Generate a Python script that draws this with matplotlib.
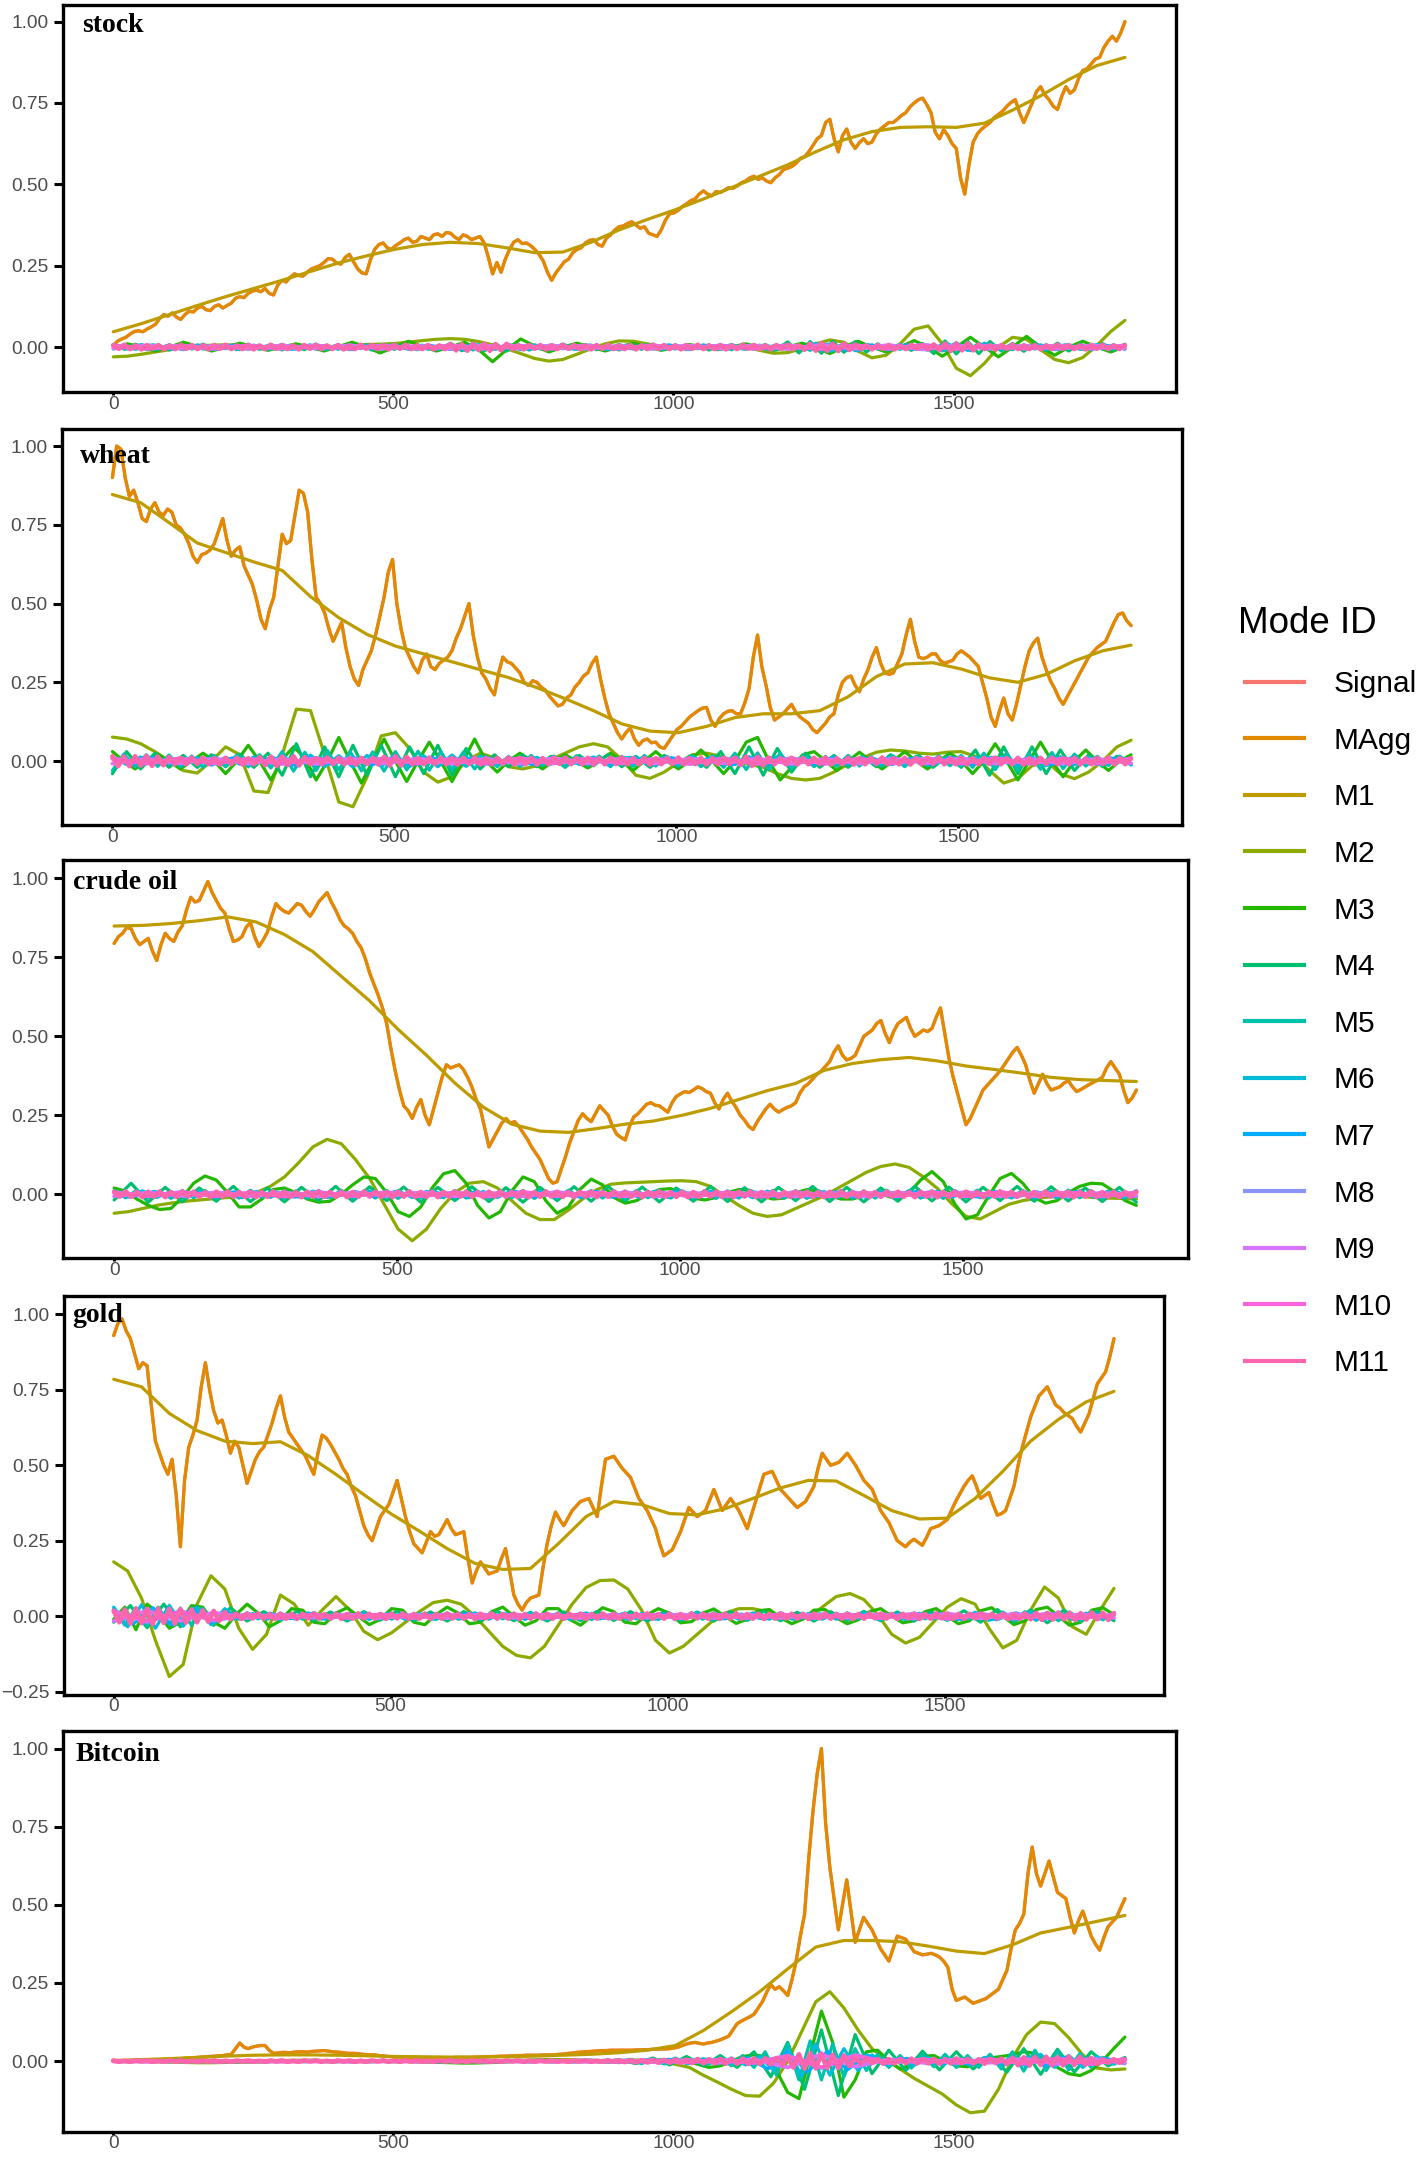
import numpy as np
import matplotlib
matplotlib.use("Agg")
import matplotlib.pyplot as plt
from matplotlib.lines import Line2D

plt.rcParams["font.family"] = ["Liberation Sans", "DejaVu Sans"]

# ---------------------------------------------------------------- data
# all series values are given in thousandths of the normalised scale;
# each series is sampled evenly over the day index 0 .. X_LAST
SCALE = 1000.0
X_LAST = 1806

MODE_IDS = ["Signal", "MAgg", "M1", "M2", "M3", "M4", "M5", "M6", "M7",
            "M8", "M9", "M10", "M11"]
MODE_COLORS = ["#F8766D", "#E18A00", "#BE9C00", "#8CAB00", "#24B700", "#00BE70",
               "#00C1AB", "#00BBDA", "#00ACFC", "#8B93FF", "#D575FE", "#F962DD",
               "#FF65AC"]

X_TICKS = [0, 500, 1000, 1500]
X_TICK_LABELS = ["0", "500", "1000", "1500"]
Y_TICKS = [0.0, 0.25, 0.5, 0.75, 1.0]
Y_TICK_LABELS = ["0.00", "0.25", "0.50", "0.75", "1.00"]
Y_TICKS_GOLD = [-0.25, 0.0, 0.25, 0.5, 0.75, 1.0]
Y_TICK_LABELS_GOLD = ["\u22120.25", "0.00", "0.25", "0.50", "0.75", "1.00"]

PANEL_NAMES = ["stock", "wheat", "crude oil", "gold", "Bitcoin"]

# ---- stock
stock_signal = [5,18,25,30,40,48,50,47,55,62,70,88,100,95,105,92,85,100,110,108,120,125,115,112,125,130,120,128,135,150,155,152,165,172,175,170,180,165,160,190,
    205,200,215,225,220,218,230,240,245,250,260,272,270,258,255,275,285,262,240,228,225,268,300,315,320,305,300,312,320,330,335,322,325,340,335,330,345,348,340,352,
    350,338,330,345,340,330,335,340,320,275,225,260,230,270,300,322,330,318,320,312,300,285,265,230,205,228,245,262,270,290,300,305,320,328,330,315,310,335,345,360,
    370,372,380,385,375,365,370,350,345,340,360,390,410,412,420,432,440,450,455,470,480,470,465,478,475,482,490,488,495,505,510,520,525,515,520,510,505,520,530,545,
    550,555,565,580,585,600,620,640,650,690,700,640,600,650,670,630,610,628,640,625,630,655,670,680,690,690,700,712,720,738,750,760,765,745,720,660,640,668,650,625,
    610,520,470,560,630,655,670,680,690,705,715,725,740,752,760,720,690,720,750,785,800,775,760,740,730,770,800,780,790,825,850,855,870,885,890,920,940,955,940,965,1000]
stock_magg = list(stock_signal)
stock_m1 = [47,72,100,128,155,180,205,232,258,280,300,315,322,318,305,290,292,322,360,392,
    422,455,490,525,560,600,637,662,675,677,675,688,728,772,822,865,890]
stock_m2 = [-30,-28,-22,-15,-8,-2,3,6,7,6,3,0,-3,-4,-3,0,3,6,8,9,
    11,15,20,24,26,24,17,7,-5,-20,-35,-43,-38,-22,-5,10,19,18,10,2,
    -3,-5,-4,0,2,0,-10,-19,-17,-5,10,22,15,-12,-33,-25,10,55,65,10,
    -65,-88,-50,0,30,24,-8,-38,-48,-32,5,48,82]
stock_m3 = [-3,10,1,-12,0,15,2,-12,0,12,1,-10,0,10,0,-12,1,15,0,-18,
    0,18,2,-12,0,15,-8,-45,-8,25,3,-15,0,12,0,-12,0,12,1,-10,
    0,8,0,-8,0,10,0,-10,0,12,0,-20,0,18,0,-15,0,20,0,-28,
    0,30,0,-30,0,33,0,-25,0,18,0,-15,2]
stock_m4 = [8,-7,9,-8,7,-9,8,-6,9,-8,7,-8,9,-7,8,-9,6,-8,9,-7,8,-8,7,-9,8,-7,9,-8,7,-8,
    12,-11,13,-12,11,-12,8,-9,7,-8,9,-7,8,-8,6,-9,8,-7,9,-8,7,-8,8,-9,7,-8,9,-6,8,-8,
    16,-18,17,-19,18,-16,17,-15,10,-11,9,-10,11,-20,19,-21,18,-20,17,
    -12,11,-13,12,-11,12,-12,10,-9,11,-10,9]
stock_m5 = [-6,5,-7,6,-5,7,-6,5,-6,7,-5,6,-7,5,-6,6,-5,7,-6,5,
    -7,6,-5,6,-6,7,-5,6,-7,5,-6,8,-9,8,-7,6,-5,6,-6,7,
    -5,6,-7,5,-6,6,-5,7,-6,5,-6,7,-5,6,-7,5,-6,6,-5,7,-6,5,
    -10,11,-12,10,-11,7,-6,5,-7,6,-5,7,-11,12,-10,11,
    -7,6,-8,7,-6,7,-8,6,-7,8,-6,7,-6]
stock_m6 = [7,-6,8,-7,6,-8,7,-6,7,-8,6,-7,8,-6,7,-7,6,-8,7,-6,8,-7,6,-7,9,-10,8,-7,6,-8,
    7,-6,8,-7,6,-7,8,-6,7,-7,6,-8,7,-6,8,-7,6,-7,8,-6,
    12,-13,11,-12,7,-6,8,-7,6,-12,13,-11,12,-7,8,-6,7,-8,6,-7,8,-6,7]
stock_m7 = [6,-5,7,-6,5,-7,6,-5,6,-7,5,-6,7,-5,6,-6,5,-7,6,-5,7,-6,5,-6,6,-7,5,-6,7,-5,
    6,-6,5,-7,6,-5,9,-10,8,-6,7,-9,10,-8,6,-7,5,-6,7,-5,6,-6]
stock_m8 = [5,-4,5,-5,4,-5,5,-4,5,-5,4,-5,5,-4,5,-5,4,-5,5,-4,6,-7,5,-6,7,-5,5,-4,5,-5,4]
stock_m9 = [-4,5,-5,4,-5,5,-4,5,-5,4,-5,5,-4,5,-5,4,-5,5,-4,5,-6,7,-5,6,-7,5,-5,4,-5,5,-4]
stock_m10 = [4,-5,4,-4,5,-4,4,-5,4,-4,5,-4,4,-5,4,-4,5,-4,4,-5,5,-6,5,-5,6,-5,4,-5,4,-4,5]
stock_m11 = [6,-5,7,-6,5,-7,6,-5,6,-7,5,-6,7,-5,6,-6,5,-7,6,-5,
    7,-6,5,-6,6,-7,5,-6,7,-5,6,-6,5,-7,6,-5,7,-6,5,-6,
    6,-7,5,-6,7,-5,6,-6,5,-7,6,-5,7,-6,5,-6,6,-7,5,-6,
    9,-10,9,-11,10,-9,10,-11,9,-10,10,-6,5,-7,6,-5,6,-7,5,-6,
    7,-5,6,-6,5,-7,6,-5,7,-6,5,-6,6,-7,5,-6,7,-5,6,-6,
    5,-7,6,-5,7,-6,5,-6,6,-7,5,-6,7,-5,6,-6,5,-7,6,-5,
    7,-6,5,-8,10,-11,12,-11,10,-12,11,-9,8,-6,5,-7,6,-5,6,-7,
    5,-6,7,-5,6,-7,8,-9,11,-12,11,-10,12,-10,8,-6,5,-7,6,-5,
    7,-6,5,-6,6,-7,5,-6,7,-5,6,-6,5,-7,6,-5,7,-6,5,-6,6]

# ---- wheat
wheat_signal = [900,1000,990,900,840,860,820,770,760,800,820,790,780,800,790,750,740,720,690,650,630,655,660,670,690,730,770,700,650,670,680,620,590,560,510,450,420,480,520,620,
    720,690,700,780,860,850,790,640,520,500,470,420,380,410,440,360,300,260,240,290,320,350,400,460,520,600,640,500,420,360,330,300,280,320,340,300,290,310,320,330,
    350,390,420,460,500,400,330,280,260,230,210,280,330,315,310,295,280,250,240,255,250,235,225,205,190,175,180,200,210,235,250,270,280,310,330,260,200,150,120,90,
    70,90,105,70,50,65,70,58,60,45,40,60,80,100,110,125,140,150,160,168,170,130,110,135,150,158,160,150,150,185,230,330,400,300,240,170,130,140,150,165,
    180,155,140,130,120,100,90,105,120,140,150,210,250,265,270,240,220,260,290,330,360,310,280,275,280,310,340,400,450,380,330,325,330,340,340,320,310,315,320,340,
    350,340,330,315,300,250,200,140,110,160,200,150,130,180,240,300,350,375,390,330,290,255,230,200,180,205,230,255,280,305,330,345,360,370,380,410,440,465,470,445,430]
wheat_magg = list(wheat_signal)
wheat_m1 = [846,820,757,692,662,632,605,522,455,402,365,340,315,290,265,233,198,160,118,95,
    90,110,138,150,150,160,204,268,308,312,292,264,250,275,318,350,368]
wheat_m2 = [76,70,55,30,0,-30,-38,0,45,20,-95,-100,20,165,160,20,-130,-145,-50,80,
    90,40,-35,-67,-50,0,25,10,-18,-25,-15,5,25,45,55,45,5,-45,-55,-35,
    -5,20,25,15,0,-10,-20,-40,-55,-60,-55,-35,-10,10,28,35,32,25,22,28,
    30,15,-30,-70,-55,-15,0,-40,-56,-35,0,45,66]
wheat_m3 = [30,0,-25,0,22,0,-25,0,25,0,-40,0,50,0,-60,5,45,10,-60,0,
    75,0,-70,0,70,0,-65,0,60,0,-65,0,70,0,-35,0,25,0,-25,0,
    20,0,-22,0,25,0,-30,0,30,0,-25,0,35,0,-40,0,60,75,0,-60,
    -20,20,30,0,-30,0,28,0,-25,0,30,0,-25,0,25,0,-40,0,55,0,
    -60,0,60,0,-50,0,35,0,-30,0,20]
wheat_m4 = [-40,30,-25,25,-20,18,-20,20,-18,22,-20,25,-45,55,-50,45,-50,50,-45,50,
    -50,45,-40,50,-45,40,-25,20,-18,20,-18,15,-20,18,-15,20,-18,15,-20,18,
    -15,18,-20,30,-40,45,-45,40,-35,25,-20,18,-20,15,-18,20,-15,18,-20,15,
    -20,35,-45,45,-40,45,-40,35,-30,20,-18,15,-12]
wheat_m5 = [-30,22,-18,20,-17,19,-18,16,-20,18,-17,19,-18,20,-22,
    30,-32,28,-30,33,-28,30,-31,29,-32,30,-28,31,-29,30,-27,28,-25,
    16,-18,15,-17,18,-15,16,-18,17,-15,16,-18,15,-17,18,-16,15,-17,16,-18,17,-20,
    25,-27,26,-28,25,-22,16,-18,15,-17,18,-16,15,-17,16,-18,15,-16,17,-15,18,-20,
    25,-27,26,-28,25,-26,27,-24,22,-16,15,-14,16,-12]
wheat_m6 = [12,-11,13,-10,12,-12,11,-13,12,-10,13,-12,
    18,-17,19,-18,17,-19,18,-17,19,-18,17,-18,19,-17,16,
    -12,11,-13,12,-10,12,-11,13,-12,10,12,-13,11,-12,13,-10,12,-11,14,-15,
    14,-12,11,-12,13,-10,12,-11,13,-12,11,-12,10,-13,12,-11,15,-14,13,-15,
    14,-12,11,-12,10,-11]
wheat_m7 = [10,-9,11,-10,9,-11,10,-9,12,-13,12,-11,13,-12,11,-12,10,-9,11,-10,
    9,-11,10,-9,10,-11,9,-10,11,-9,12,-13,11,-10,9,-11,10,-9,10,-11,
    9,-12,13,-11,12,-10,9,-11,10,-9,10,-9]
wheat_m8 = [8,-7,9,-8,7,-8,9,-7,8,-8,7,-9,8,-7,8,-8,7,-9,8,-7,9,-8,7,-8,9,-7,8,-8,7,-9,8]
wheat_m9 = [-8,7,-7,8,-8,7,-9,8,-7,8,-8,7,-8,9,-7,8,-8,7,-7,8,-9,7,-8,8,-7,9,-8,7,-8,7,-7]
wheat_m10 = [7,-8,8,-7,7,-9,8,-7,8,-7,7,-8,9,-7,8,-7,7,-8,8,-9,7,-8,7,-7,8,-8,9,-7,8,-7,7]
wheat_m11 = [15,-16,14,-16,15,-14,16,-15,14,-13,12,-10,9,-10,11,-9,10,-10,9,-11,
    10,-9,10,-11,9,-10,12,-13,14,-15,14,-13,15,-14,12,-10,9,-10,11,-9,
    10,-10,9,-11,10,-9,10,-11,13,-14,15,-14,13,-10,9,-10,11,-9,10,-10,
    9,-11,10,-9,10,-11,9,-10,10,-9,11,-10,9,-10,10,-11,9,-10,10,-9,
    11,-10,9,-10,10,-11,9,-10,10,-9,11,-10,9,-10,10,-11,9,-10,10,-9,
    11,-10,9,-10,10,-11,9,-10,10,-9,11,-13,14,-15,14,-13,11,-10,9,-10,
    10,-11,9,-10,10,-9,11,-10,9,-10,10,-11,9,-10,10,-9,11,-10,9,-10,
    10,-11,9,-10,10,-9,11,-10,9,-10,10,-11,9,-10,10,-9,11,-10,9,-10,
    10,-11,9,-10,10,-9,11,-10,9,-10,10,-11,9,-10,10,-9,11,-10,9,-10,9]

# ---- crude oil
crude_signal = [794,815,826,845,840,810,790,800,810,770,740,790,826,810,800,830,850,900,940,925,930,960,990,955,930,905,890,840,800,805,815,845,860,815,784,805,830,880,920,905,
    895,890,905,920,915,895,880,900,925,940,955,925,900,870,850,840,826,800,780,745,700,665,630,590,540,460,390,330,280,265,240,275,300,250,220,270,320,370,410,400,
    405,410,395,370,340,300,270,210,150,175,200,225,240,225,230,215,195,175,150,130,110,80,50,35,40,80,120,165,200,235,255,240,230,255,280,265,250,215,190,180,
    172,215,245,255,270,285,290,282,280,270,260,290,310,318,325,322,330,340,335,325,320,290,270,300,320,295,275,250,235,215,205,230,250,270,285,270,260,268,275,280,
    290,320,340,350,365,380,390,405,420,450,470,440,425,430,440,470,500,510,520,540,550,510,480,515,540,550,560,525,500,510,520,515,525,560,590,510,430,370,320,270,
    220,240,270,300,330,345,360,375,390,410,430,450,465,440,410,360,320,350,380,350,330,335,340,352,360,340,325,332,340,348,355,362,370,400,420,400,380,330,290,305,330]
crude_magg = list(crude_signal)
crude_m1 = [849,851,857,866,878,862,822,768,690,612,522,440,352,276,222,200,196,208,222,232,
    250,272,300,328,351,392,414,426,433,422,406,395,383,370,363,360,357]
crude_m2 = [-60,-55,-45,-35,-28,-22,-18,-14,-10,-5,5,25,55,100,150,174,160,110,50,-30,
    -110,-147,-110,-45,5,35,40,20,-20,-60,-80,-80,-50,-15,15,32,36,38,40,42,
    43,40,25,-5,-35,-60,-70,-65,-45,-25,-5,20,45,70,88,96,85,55,18,-30,
    -70,-78,-55,-32,-20,-12,-8,-6,-7,-10,-12,-13,-15]
crude_m3 = [20,10,-15,-35,-48,-45,-10,35,58,45,5,-40,-40,-15,15,20,5,-15,-25,-22,
    0,30,55,50,5,-55,-70,-40,20,65,75,35,-35,-75,-55,10,55,40,-20,-60,
    -40,15,48,30,-10,-28,-20,0,15,18,5,-12,-18,-10,5,15,12,-5,-15,-12,
    5,15,10,-5,-15,-15,-5,5,-5,-15,5,45,72,40,-30,-78,-65,-5,50,66,
    35,-10,-28,-20,5,25,35,33,10,-20,-35]
crude_m4 = [-18,35,-25,22,-24,20,-22,25,-23,20,-24,22,-20,25,-22,24,-20,23,-25,22,
    -20,24,-23,21,-25,22,-20,24,-22,25,-21,23,-24,20,-22,25,-23,21,-24,22,
    -20,25,-23,22,-24,20,-22,25,-21,23,-24,22,-20,25,-22,24,-21,20,-23,22,-25]
crude_m5 = [12,-11,13,-12,10,-13,12,-11,12,-13,11,-12,13,-10,12,-12,11,-13,12,-11,
    13,-12,10,-12,12,-13,11,-12,13,-11,12,-12,10,-13,12,-11,12,-13,11,-12,
    13,-10,12,-12,11,-13,12,-11,13,-12,10,-12,12,-13,11,-12,13,-11,12,-12,
    10,-13,12,-11,12,-13,11,-12,13,-10,12,-12,11,-13,12,-11,13,-12,10,-12,
    12,-13,11,-12,13,-11,12,-12,10,-13,12]
crude_m6 = [10,-9,11,-10,9,-11,10,-9,10,-11,9,-10,11,-9,10,-10,9,-11,10,-9,
    11,-10,9,-10,10,-11,9,-10,11,-9,10,-10,9,-11,10,-9,10,-11,9,-10,
    11,-9,10,-10,9,-11,10,-9,11,-10,9,-10,10,-11,9,-10,11,-9,10,-10,
    9,-11,10,-9,10,-11,9,-10,11,-9,10,-10,9]
crude_m7 = [8,-7,9,-8,7,-9,8,-7,8,-9,7,-8,9,-7,8,-8,7,-9,8,-7,9,-8,7,-8,8,-9,7,-8,9,-7,
    8,-8,7,-9,8,-7,8,-9,7,-8,9,-7,8,-8,7,-9,8,-7,9,-8,7,-8]
crude_m8 = [6,-5,7,-6,5,-6,7,-5,6,-6,5,-7,6,-5,6,-6,5,-7,6,-5,7,-6,5,-6,7,-5,6,-6,5,-7,6]
crude_m9 = [-6,5,-5,6,-6,5,-7,6,-5,6,-6,5,-6,7,-5,6,-6,5,-5,6,-7,5,-6,6,-5,7,-6,5,-6,5,-5]
crude_m10 = [5,-6,6,-5,5,-7,6,-5,6,-5,5,-6,7,-5,6,-5,5,-6,6,-7,5,-6,5,-5,6,-6,7,-5,6,-5,5]
crude_m11 = [8,-7,9,-8,7,-9,8,-7,8,-9,7,-8,9,-7,8,-8,7,-9,8,-7,
    9,-8,7,-8,8,-9,7,-8,9,-7,8,-8,7,-9,8,-7,9,-8,7,-8,
    8,-9,7,-8,9,-7,8,-8,7,-9,8,-7,9,-8,7,-8,8,-9,7,-8,
    9,-7,8,-8,7,-9,8,-7,9,-8,7,-8,8,-9,7,-8,9,-7,8,-8,
    7,-9,8,-7,8,-9,7,-8,9,-7,8,-8,7,-9,8,-7,9,-8,7,-8,
    8,-9,7,-8,9,-7,8,-8,7,-9,8,-7,9,-8,7,-8,8,-9,7,-8,
    9,-7,8,-8,7,-9,8,-7,9,-8,7,-8,8,-9,7,-8,9,-7,8,-8,
    7,-9,8,-7,8,-9,7,-8,9,-7,8,-8,7,-9,8,-7,9,-8,7,-8,
    8,-9,7,-8,9,-7,8,-8,7,-9,8,-7,9,-8,7,-8,8,-9,7,-8,8]

# ---- gold
gold_signal = [930,970,985,945,920,870,820,840,830,700,580,540,500,470,520,400,230,450,560,600,650,760,840,750,680,640,650,600,540,580,560,500,440,480,520,545,560,600,640,690,
    730,660,610,590,570,550,530,500,470,540,600,590,570,545,520,490,470,430,400,350,300,270,250,290,330,350,370,410,450,390,330,280,240,225,210,245,280,265,270,295,
    320,290,270,275,280,190,110,150,180,160,140,145,150,190,224,150,70,40,20,45,60,65,70,160,240,300,345,320,300,325,350,365,380,385,390,360,330,430,520,525,
    530,510,490,475,460,425,390,370,350,320,290,240,200,210,220,250,280,320,360,345,330,340,350,385,420,385,350,370,390,370,350,320,290,335,380,425,470,475,480,450,
    420,405,390,375,360,370,380,405,430,490,540,520,500,505,510,525,540,520,500,475,450,435,420,385,350,330,310,280,250,240,230,245,255,245,235,260,290,295,300,310,
    320,350,380,405,430,450,465,430,390,400,410,370,335,340,350,390,430,500,560,610,660,695,730,745,760,730,700,690,675,665,655,630,610,640,670,720,770,790,810,860,920]
gold_magg = list(gold_signal)
gold_m1 = [785,760,672,615,580,572,578,532,470,403,338,282,224,175,155,158,240,330,380,370,
    340,336,356,390,425,450,448,400,350,322,325,390,480,580,652,710,745]
gold_m2 = [180,150,60,-80,-200,-160,40,134,90,-40,-110,-60,70,40,-30,20,65,20,-50,-78,
    -55,-20,15,45,53,40,0,-50,-100,-130,-138,-100,-30,40,95,118,120,90,20,-80,
    -122,-100,-60,-20,10,25,25,15,0,-10,-5,30,65,75,55,5,-60,-89,-70,-20,
    30,58,40,-40,-105,-80,20,97,60,-35,-60,20,92]
gold_m3 = [-10,30,-45,40,10,-40,-20,35,30,-20,-40,5,40,10,-35,-15,25,20,-20,-25,
    10,28,0,-28,-10,25,20,-20,-28,5,30,10,-25,-20,15,30,0,-30,-15,25,
    25,-10,-30,0,28,15,-20,-25,5,25,10,-22,-18,10,24,0,-24,-10,18,22,
    -5,-25,-10,20,22,-5,-25,-12,15,25,0,-22,-15,15,25,0,-25,-15,18,28,
    0,-28,-15,22,30,0,-30,-20,20,28,5]
gold_m4 = [-20,35,-38,40,-35,32,-30,28,-16,15,-14,16,-15,14,-16,15,-13,16,
    -15,14,-16,15,-14,16,-15,13,-16,14,-15,16,-14,15,-16,13,-15,14,-16,15,
    -14,16,-15,13,-16,15,-14,16,-15,14,-16,15,-14,18,-20,22,-20,21,-22,20,-18,16,-15]
gold_m5 = [25,-30,28,-32,30,-28,27,-30,26,-22,12,-10,11,-9,10,-11,9,-10,12,-10,
    11,-9,10,-11,9,-10,11,-9,10,-11,9,-10,12,-10,11,-9,10,-11,9,-10,
    11,-9,10,-11,9,-10,11,-9,10,-11,9,-10,12,-10,11,-9,10,-11,9,-10,
    11,-9,10,-11,9,-10,11,-9,10,-11,9,-10,11,-9,10,-11,9,-10,11,-12,
    14,-13,15,-14,13,-15,14,-13,15,-12,11]
gold_m6 = [30,-35,38,-40,36,-33,30,-28,25,-10,9,-11,10,-9,11,-10,9,-10,11,
    -9,10,-11,9,-10,10,-9,11,-10,9,-11,10,-9,10,-10,11,-9,10,-11,9,
    -10,10,-9,11,-10,9,-10,11,-9,10,-11,9,-10,10,-9,11,-10,9,-11,10,
    -9,10,-12,13,-14,12,-13,14,-12,13,-11,10,-9,10]
gold_m7 = [20,-25,28,-30,26,-22,8,-7,9,-8,7,-9,8,-7,8,-9,7,-8,9,-7,8,-8,7,-9,8,-7,
    9,-8,7,-8,8,-9,7,-8,9,-7,8,-8,7,-9,8,-7,10,-11,10,-12,11,-10,9,-8,9,-8]
gold_m8 = [18,-20,17,-15,6,-5,6,-6,5,-6,6,-5,6,-6,5,-6,6,-5,6,-6,5,-6,6,-5,8,-9,8,-7,8,-6,5]
gold_m9 = [-16,18,-15,12,-6,5,-5,6,-6,5,-6,6,-5,6,-6,5,-5,6,-6,5,-6,6,-5,7,-8,9,-7,8,-7,6,-5]
gold_m10 = [14,-16,15,-12,5,-6,5,-5,6,-5,5,-6,5,-5,6,-5,5,-6,5,-5,6,-5,5,-6,7,-8,7,-8,7,-6,5]
gold_m11 = [18,-20,22,-24,25,-23,24,-26,25,-22,24,-25,23,-21,22,-20,19,-18,17,-15,
    13,-10,8,-9,8,-7,9,-8,7,-9,8,-8,7,-9,8,-7,9,-8,7,-8,
    8,-9,7,-8,9,-7,8,-8,7,-9,8,-7,9,-8,7,-8,8,-9,7,-8,
    9,-7,8,-8,7,-9,8,-7,9,-8,7,-8,8,-9,7,-8,9,-7,8,-8,
    7,-9,8,-7,8,-9,7,-8,9,-7,8,-8,7,-9,8,-7,9,-8,7,-8,
    8,-9,7,-8,9,-7,8,-8,7,-9,8,-7,9,-8,7,-8,8,-9,7,-8,
    9,-7,8,-8,7,-9,8,-7,9,-8,7,-8,8,-9,7,-8,9,-7,8,-8,
    7,-9,8,-7,8,-9,7,-8,9,-7,8,-8,7,-9,8,-7,9,-8,7,-8,
    8,-9,7,-8,9,-10,11,-12,10,-11,12,-10,11,-12,10,-11,12,-10,11,-12,10]

# ---- Bitcoin
bitcoin_signal = [0,0,1,1,2,2,2,3,3,3,3,4,5,6,7,7,8,9,10,11,12,13,14,15,16,17,18,20,22,40,58,45,40,45,48,50,50,35,25,26,
    28,28,27,29,30,30,29,31,32,33,34,32,30,29,28,26,25,25,24,22,21,20,20,18,17,15,14,13,13,12,12,12,12,11,11,11,11,11,11,11,
    11,12,12,12,12,12,13,13,14,14,15,15,16,16,17,17,18,18,19,19,19,19,20,20,20,21,22,23,25,26,28,29,30,31,32,33,34,34,35,35,
    35,35,35,35,36,36,37,37,38,38,39,39,40,42,45,50,55,58,60,57,55,58,60,64,68,74,80,100,120,128,135,142,150,170,190,220,245,230,238,225,
    210,260,320,400,470,650,800,920,1000,760,620,520,420,500,580,480,380,420,460,440,420,390,360,340,320,360,400,395,390,370,350,345,340,342,345,340,333,320,300,230,
    194,200,205,195,185,190,195,200,210,220,230,260,290,360,420,440,470,600,685,600,560,600,640,590,540,530,520,460,410,450,480,440,400,375,355,395,430,445,460,490,520]
bitcoin_magg = list(bitcoin_signal)
bitcoin_m1 = [2,5,8,12,16,19,20,20,19,17,15,14,13,13,14,16,19,22,27,35,
    50,98,158,222,295,365,386,386,382,368,352,344,372,410,428,447,466]
bitcoin_m2 = [0,0,-1,-2,-3,-4,-5,-5,-4,-3,-1,1,2,3,3,2,1,0,-1,-1,
    0,1,1,1,0,0,0,1,2,3,4,5,5,4,3,2,1,4,2,0,
    -10,-20,-45,-67,-90,-110,-112,-70,0,95,190,222,170,100,40,5,-25,-55,-80,-105,
    -140,-165,-160,-90,10,85,125,120,75,20,-22,-28,-25]
bitcoin_m3 = [0,0,1,1,2,2,3,2,1,0,-1,-2,-3,-2,-1,0,1,2,1,0,
    -1,-1,0,1,1,0,-1,-2,-3,-4,-5,-6,-6,-5,-4,-2,0,2,3,3,
    2,1,0,-1,-2,-3,-2,0,3,5,5,0,-10,-20,-15,0,15,20,
    15,-30,-100,-120,20,160,60,-115,-60,30,
    35,0,-25,-10,15,18,0,-15,-18,-5,10,15,
    20,30,25,5,-20,-40,-46,-30,0,40,77]
bitcoin_m4 = [2,-2,1,-2,2,-1,2,-2,1,-2,2,-1,3,-3,2,-3,3,-2,2,-3,3,-2,2,-2,1,-2,2,-1,2,-3,
    5,-8,10,-12,15,-15,18,-20,30,-50,60,-90,100,-110,85,
    -40,35,-30,32,-28,30,-25,20,-35,40,-42,38,-35,30,-15,12]
bitcoin_m5 = [1,-2,2,-1,2,-2,1,-2,2,-1,2,-2,1,-2,2,-1,2,-2,1,-2,
    2,-1,2,-2,1,-2,2,-1,2,-2,1,-2,2,-1,2,-2,1,-2,3,-3,2,-3,3,-2,4,-5,
    6,-8,7,-9,10,-8,9,-10,12,-15,18,-20,30,-45,55,-60,65,-60,55,-50,40,-30,
    22,-20,18,-22,20,-18,22,-20,18,-20,22,-25,30,-32,35,-30,32,-28,25,-20,12,-10,8]
bitcoin_m6 = [1,-1,2,-1,1,-2,1,-1,2,-1,1,-2,1,-1,2,-1,1,-2,1,-1,
    2,-1,1,-2,1,-1,2,-1,1,-2,1,-1,2,-2,2,-3,3,-4,
    5,-6,8,-7,8,-9,10,-12,15,-30,40,-50,55,-45,40,-30,20,
    -12,10,-13,11,-12,10,-13,12,-10,14,-18,22,-20,18,-20,15,-8,6]
bitcoin_m7 = [1,-1,1,-1,1,-1,1,-1,1,-1,1,-1,1,-1,1,-1,1,-1,1,-1,2,-2,2,-2,3,-3,
    4,-5,6,-6,7,-8,10,-25,30,-35,32,-28,20,-8,9,-7,8,-9,7,-10,12,-14,13,-12,10,-8]
bitcoin_m8 = [1,-1,1,-1,1,-1,1,-1,1,-1,1,-1,1,-1,2,-2,3,-4,5,-6,18,-22,20,-6,5,-6,5,-8,9,-8,6]
bitcoin_m9 = [-1,1,-1,1,-1,1,-1,1,-1,1,-1,1,-1,1,-2,2,-3,4,-5,6,-20,22,-18,6,-5,6,-5,8,-9,8,-6]
bitcoin_m10 = [1,-1,1,-1,1,-1,1,-1,1,-1,1,-1,1,-1,1,-2,2,-3,4,-5,16,-20,18,-5,6,-5,6,-7,8,-9,7]
bitcoin_m11 = [2,-2,1,-2,2,-1,2,-2,1,-2,2,-1,2,-2,1,-2,2,-1,2,-2,
    1,-2,2,-1,2,-2,1,-2,2,-1,2,-2,1,-2,2,-1,2,-2,1,-2,
    2,-1,2,-2,1,-2,2,-1,2,-2,1,-2,2,-1,2,-2,1,-2,2,-1,
    2,-2,1,-2,2,-1,2,-2,1,-2,2,-1,2,-2,1,-2,2,-1,2,-2,
    1,-2,2,-1,2,-2,1,-2,2,-1,2,-3,3,-4,3,-4,4,-5,4,-5,
    5,-6,5,-6,6,-7,6,-7,7,-8,7,-8,8,-9,8,-9,9,-10,10,-12,
    15,-20,22,-24,25,-23,24,-22,20,-22,18,-15,12,-8,7,-6,7,-8,6,-7,
    7,-6,8,-7,6,-7,7,-8,6,-7,8,-6,7,-7,6,-8,7,-6,8,-9,
    11,-13,12,-14,13,-12,14,-13,12,-13,14,-12,13,-11,10,-9,6,-5,6,-5,4]

SERIES = {
    "stock": [stock_signal, stock_magg, stock_m1, stock_m2, stock_m3, stock_m4, stock_m5,
              stock_m6, stock_m7, stock_m8, stock_m9, stock_m10, stock_m11],
    "wheat": [wheat_signal, wheat_magg, wheat_m1, wheat_m2, wheat_m3, wheat_m4, wheat_m5,
              wheat_m6, wheat_m7, wheat_m8, wheat_m9, wheat_m10, wheat_m11],
    "crude oil": [crude_signal, crude_magg, crude_m1, crude_m2, crude_m3, crude_m4, crude_m5,
                  crude_m6, crude_m7, crude_m8, crude_m9, crude_m10, crude_m11],
    "gold": [gold_signal, gold_magg, gold_m1, gold_m2, gold_m3, gold_m4, gold_m5,
             gold_m6, gold_m7, gold_m8, gold_m9, gold_m10, gold_m11],
    "Bitcoin": [bitcoin_signal, bitcoin_magg, bitcoin_m1, bitcoin_m2, bitcoin_m3, bitcoin_m4,
                bitcoin_m5, bitcoin_m6, bitcoin_m7, bitcoin_m8, bitcoin_m9, bitcoin_m10,
                bitcoin_m11],
}

# ---------------------------------------------------------------- layout
W, H = 1416, 2160
# panel box in pixels: left, right, top, bottom
BOXES = {
    "stock": (62.7, 1175.5, 4.7, 392.0),
    "wheat": (61.5, 1182.0, 429.0, 825.0),
    "crude oil": (63.0, 1187.5, 860.0, 1258.0),
    "gold": (63.7, 1164.0, 1296.0, 1694.5),
    "Bitcoin": (62.7, 1175.5, 1731.0, 2131.5),
}
YLIMS = {
    "stock": (-0.138, 1.052),
    "wheat": (-0.203, 1.054),
    "crude oil": (-0.2016, 1.058),
    "gold": (-0.2595, 1.061),
    "Bitcoin": (-0.225, 1.056),
}
TITLE_POS = {  # left x, baseline y (pixels)
    "stock": (82.0, 31.7),
    "wheat": (79.5, 463.3),
    "crude oil": (73.0, 889.0),
    "gold": (72.0, 1322.0),
    "Bitcoin": (75.5, 1761.0),
}
XLIM = (-90.3, 1896.3)
# line width per mode (the dense high-frequency modes render as a band)
MODE_LW = [2.3, 2.3, 2.3, 2.3, 2.3, 2.3, 2.3, 2.3, 2.3, 2.8, 2.8, 2.8, 3.4]
TICK_GREY = "#4D4D4D"
SERIF = ["Liberation Serif", "DejaVu Serif"]
SANS = ["Liberation Sans", "DejaVu Sans"]

fig = plt.figure(figsize=(W / 100, H / 100), dpi=100)
fig.patch.set_facecolor("white")

for name in PANEL_NAMES:
    L, R, T, B = BOXES[name]
    ax = fig.add_axes([L / W, 1 - B / H, (R - L) / W, (B - T) / H])
    for vals, color, lw in zip(SERIES[name], MODE_COLORS, MODE_LW):
        y = np.asarray(vals, dtype=float) / SCALE
        x = np.linspace(0, X_LAST, len(y))
        ax.plot(x, y, color=color, lw=lw, solid_joinstyle="round", solid_capstyle="round")
    ax.set_xlim(*XLIM)
    ax.set_ylim(*YLIMS[name])
    ax.set_xticks(X_TICKS)
    ax.set_xticklabels(X_TICK_LABELS)
    if name == "gold":
        ax.set_yticks(Y_TICKS_GOLD)
        ax.set_yticklabels(Y_TICK_LABELS_GOLD)
    else:
        ax.set_yticks(Y_TICKS)
        ax.set_yticklabels(Y_TICK_LABELS)
    for sp in ax.spines.values():
        sp.set_linewidth(2.4)
        sp.set_color("black")
    ax.tick_params(axis="y", direction="out", length=6.3, width=2.2, pad=4.0,
                   labelsize=13.8, labelcolor=TICK_GREY, color="black")
    ax.tick_params(axis="x", direction="out", length=2.0, width=2.2, pad=0.6,
                   labelsize=13.8, labelcolor=TICK_GREY, color="black")
    for lab in ax.get_xticklabels() + ax.get_yticklabels():
        lab.set_fontfamily(SANS)
    tx, ty = TITLE_POS[name]
    fig.text(tx / W, 1 - ty / H, name, fontsize=20, fontweight="bold",
             family=SERIF, va="baseline", ha="left", color="black")

# ---------------------------------------------------------------- legend
fig.text(1238 / W, 1 - 633.3 / H, "Mode ID", fontsize=26.5, family=SANS,
         va="baseline", ha="left", color="black")
KEY_X0, KEY_X1 = 1245, 1304
KEY_Y0, KEY_DY = 681.5, 56.6
for i, (mode, color) in enumerate(zip(MODE_IDS, MODE_COLORS)):
    yk = KEY_Y0 + i * KEY_DY
    fig.add_artist(Line2D([KEY_X0 / W, KEY_X1 / W], [1 - yk / H, 1 - yk / H],
                          transform=fig.transFigure, color=color, lw=3.0))
    fig.text(1334 / W, 1 - (yk + 10.7) / H, mode, fontsize=21.5, family=SANS,
             va="baseline", ha="left", color="black")

fig.savefig("out.png", dpi=100, facecolor="white")
